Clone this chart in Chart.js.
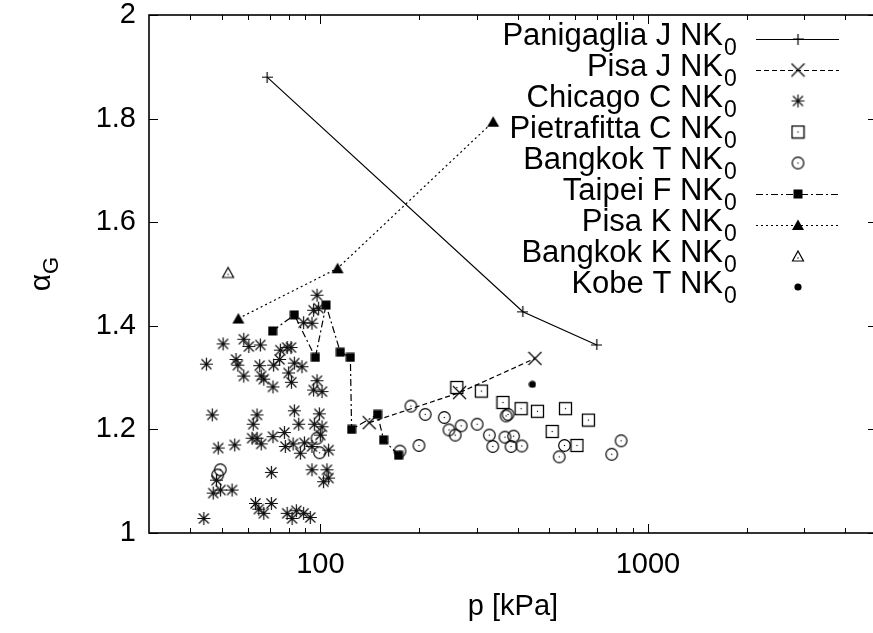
<!DOCTYPE html>
<html>
<head>
<meta charset="utf-8">
<script src="https://cdn.jsdelivr.net/npm/chart.js@4.4.1/dist/chart.umd.min.js"></script>
<style>
  html, body { margin: 0; padding: 0; background: #fff; }
  #wrap { width: 873px; height: 633px; overflow: hidden; position: relative; }
  #chart { position: absolute; left: 0; top: 0; }
</style>
</head>
<body>
<div id="wrap"><canvas id="chart" width="900" height="633"></canvas></div>
<script>
// alpha_G against pressure, nine test sites
const seriesLabels = ["Panigaglia J NK", "Pisa J NK", "Chicago C NK", "Pietrafitta C NK",
  "Bangkok T NK", "Taipei F NK", "Pisa K NK", "Bangkok K NK", "Kobe T NK"];

const panigagliaP = [68.8, 415, 698];
const panigagliaA = [1.880, 1.427, 1.363];

const pisaJP = [141, 266, 452];
const pisaJA = [1.213, 1.271, 1.337];

const chicagoP = [97.7, 95.4, 98.8, 88.9, 94.3, 50.5, 58.4, 60.5, 65.6, 75.5,
  79.2, 81.4, 44.9, 55.3, 56.0, 65.3, 72.0, 75.1, 83.3, 87.9,
  58.4, 66.0, 67.2, 71.7, 80.0, 81.6, 97.7, 95.4, 101.2, 46.8,
  64.1, 62.4, 83.3, 85.9, 99.3, 95.9, 101.2, 48.8, 54.8, 61.9,
  64.1, 66.0, 71.7, 77.7, 78.2, 82.6, 86.9, 89.4, 94.3, 100,
  106.0, 70.9, 94.3, 104.8, 102.3, 106.0, 47.1, 49.6, 53.8, 48.2,
  63.4, 67.2, 70.9, 79.2, 84.5, 88.9, 93.2, 82.0, 44.1, 64.9];
const chicagoA = [1.459, 1.430, 1.434, 1.406, 1.405, 1.365, 1.374, 1.360, 1.363, 1.353,
  1.358, 1.358, 1.326, 1.335, 1.324, 1.323, 1.324, 1.335, 1.328, 1.321,
  1.303, 1.303, 1.297, 1.282, 1.309, 1.291, 1.294, 1.276, 1.273, 1.228,
  1.228, 1.210, 1.236, 1.210, 1.230, 1.210, 1.205, 1.164, 1.170, 1.183,
  1.183, 1.172, 1.186, 1.194, 1.167, 1.172, 1.154, 1.174, 1.167, 1.189,
  1.160, 1.117, 1.122, 1.122, 1.099, 1.106, 1.077, 1.083, 1.083, 1.102,
  1.057, 1.038, 1.057, 1.038, 1.043, 1.038, 1.030, 1.028, 1.028, 1.046];

const pietrafittaP = [261, 310, 361, 410, 460, 560, 658, 510, 607];
const pietrafittaA = [1.281, 1.274, 1.252, 1.240, 1.235, 1.240, 1.218, 1.196, 1.169];

const bangkokTP = [189, 209, 239, 269, 247, 258, 301, 328, 336, 366, 369, 374, 389,
  382, 412, 556, 536, 775, 828, 175, 200, 49.5, 48.6, 97.7, 99.5];
const bangkokTA = [1.245, 1.229, 1.223, 1.207, 1.199, 1.189, 1.210, 1.189, 1.167, 1.185,
  1.226, 1.229, 1.187, 1.167, 1.168, 1.169, 1.147, 1.152, 1.178, 1.158, 1.169,
  1.122, 1.112, 1.183, 1.155];

const taipeiP = [71.5, 83.3, 96.6, 104.1, 115.1, 123.5, 124.6, 149.5, 156.0, 173.3];
const taipeiA = [1.390, 1.421, 1.339, 1.440, 1.349, 1.339, 1.200, 1.229, 1.180, 1.150];

const pisaKP = [56.2, 112.9, 336.9];
const pisaKA = [1.414, 1.511, 1.794];

const bangkokKP = [52.3];
const bangkokKA = [1.503];

const kobeP = [443.9];
const kobeA = [1.287];

const xTickLabels = [100, 1000];
const yTickLabels = [1, 1.2, 1.4, 1.6, 1.8, 2];

const FONT = '"Liberation Sans", Arial, sans-serif';

function pts(xs, ys) {
  return xs.map((v, i) => ({ x: v, y: ys[i] }));
}

// small canvases used as point styles (and reused by the key)
function marker(size, draw) {
  const c = document.createElement("canvas");
  c.width = size;
  c.height = size;
  const g = c.getContext("2d");
  g.strokeStyle = "#000";
  g.fillStyle = "#000";
  g.lineWidth = 1.2;
  draw(g, size / 2);
  return c;
}

const mPlus = marker(11, (g, h) => {
  g.beginPath();
  g.moveTo(0, h); g.lineTo(11, h);
  g.moveTo(h, 0); g.lineTo(h, 11);
  g.stroke();
});
const mCross = marker(15, (g, h) => {
  g.beginPath();
  g.moveTo(1, 1); g.lineTo(14, 14);
  g.moveTo(14, 1); g.lineTo(1, 14);
  g.stroke();
});
const mStar = marker(15, (g, h) => {
  g.strokeStyle = "#111";
  g.beginPath();
  g.moveTo(h, 1); g.lineTo(h, 14);
  g.moveTo(1, h); g.lineTo(14, h);
  g.moveTo(2.5, 2.5); g.lineTo(12.5, 12.5);
  g.moveTo(12.5, 2.5); g.lineTo(2.5, 12.5);
  g.stroke();
});
const mBoxDot = marker(15, (g, h) => {
  g.lineWidth = 1.3;
  g.strokeRect(1.5, 1.5, 12, 12);
  g.fillRect(h - 0.6, h - 0.6, 1.2, 1.2);
});
const mCircleDot = marker(15, (g, h) => {
  g.beginPath();
  g.arc(h, h, 5.8, 0, Math.PI * 2);
  g.stroke();
  g.fillRect(h - 0.6, h - 0.6, 1.2, 1.2);
});
const mBoxFill = marker(10, (g) => {
  g.fillRect(0.5, 0.5, 9, 9);
});
const mTriFill = marker(14, (g) => {
  g.beginPath();
  g.moveTo(7, 1.5); g.lineTo(13, 12); g.lineTo(1, 12);
  g.closePath();
  g.fill();
});
const mTriDot = marker(14, (g, h) => {
  g.beginPath();
  g.moveTo(7, 2); g.lineTo(12.5, 12); g.lineTo(1.5, 12);
  g.closePath();
  g.stroke();
  g.fillRect(h - 0.6, 8.4, 1.2, 1.2);
});
const mDot = marker(8, (g, h) => {
  g.beginPath();
  g.arc(h, h, 3.6, 0, Math.PI * 2);
  g.fill();
});

function series(label, xs, ys, style, line, dash) {
  return {
    label: label,
    data: pts(xs, ys),
    pointStyle: style,
    pointRadius: 5,
    pointHoverRadius: 5,
    showLine: !!line,
    borderColor: "#000",
    backgroundColor: "#000",
    borderWidth: 1.2,
    borderDash: dash || [],
    tension: 0
  };
}

const datasets = [
  series(seriesLabels[0], panigagliaP, panigagliaA, mPlus, true, []),
  series(seriesLabels[1], pisaJP, pisaJA, mCross, true, [5, 3]),
  series(seriesLabels[2], chicagoP, chicagoA, mStar, false),
  series(seriesLabels[3], pietrafittaP, pietrafittaA, mBoxDot, false),
  series(seriesLabels[4], bangkokTP, bangkokTA, mCircleDot, false),
  series(seriesLabels[5], taipeiP, taipeiA, mBoxFill, true, [7, 3, 2, 3]),
  series(seriesLabels[6], pisaKP, pisaKA, mTriFill, true, [2, 3]),
  series(seriesLabels[7], bangkokKP, bangkokKA, mTriDot, false),
  series(seriesLabels[8], kobeP, kobeA, mDot, false)
];

// minor log ticks between 30 and 5000
const xMinor = [];
[10, 100, 1000].forEach(d => {
  for (let m = 2; m <= 9; m++) {
    const v = m * d;
    if (v > 30 && v < 5000 && !xTickLabels.includes(v)) xMinor.push(v);
  }
});

const framePlugin = {
  id: "frame",
  afterDraw(chart) {
    const { ctx, chartArea: a, scales } = chart;
    const x = scales.x, y = scales.y;
    ctx.save();
    ctx.strokeStyle = "#000";
    ctx.lineWidth = 1;
    ctx.beginPath();
    xMinor.forEach(v => {
      const px = Math.round(x.getPixelForValue(v)) + 0.5;
      ctx.moveTo(px, a.bottom); ctx.lineTo(px, a.bottom - 5);
      ctx.moveTo(px, a.top); ctx.lineTo(px, a.top + 5);
    });
    xTickLabels.forEach(v => {
      const px = Math.round(x.getPixelForValue(v)) + 0.5;
      ctx.moveTo(px, a.bottom); ctx.lineTo(px, a.bottom - 9);
      ctx.moveTo(px, a.top); ctx.lineTo(px, a.top + 9);
    });
    yTickLabels.forEach(v => {
      const py = Math.round(y.getPixelForValue(v)) + 0.5;
      ctx.moveTo(a.left, py); ctx.lineTo(a.left + 9, py);
      ctx.moveTo(a.right, py); ctx.lineTo(a.right - 9, py);
    });
    ctx.stroke();

    ctx.lineWidth = 1.6;
    ctx.strokeRect(a.left, a.top, a.right - a.left, a.bottom - a.top);

    // key, top right
    ctx.fillStyle = "#000";
    chart.data.datasets.forEach((ds, i) => {
      const ry = 39 + 31 * i;
      ctx.font = "31px " + FONT;
      ctx.textAlign = "right";
      ctx.textBaseline = "alphabetic";
      ctx.fillText(ds.label, 723, ry + 6);
      ctx.font = "23px " + FONT;
      ctx.textAlign = "left";
      ctx.fillText("0", 724, ry + 16);
      if (ds.showLine) {
        ctx.save();
        ctx.lineWidth = 1.2;
        ctx.setLineDash(ds.borderDash);
        ctx.beginPath();
        ctx.moveTo(756, ry + 0.5);
        ctx.lineTo(839, ry + 0.5);
        ctx.stroke();
        ctx.restore();
      }
      const m = ds.pointStyle;
      ctx.drawImage(m, 798 - m.width / 2, ry - m.height / 2);
    });

    // axis titles
    ctx.font = "29px " + FONT;
    ctx.textAlign = "center";
    ctx.fillText("p [kPa]", (a.left + a.right) / 2, 615);

    ctx.translate(50, 274);
    ctx.rotate(-Math.PI / 2);
    ctx.font = "30px " + FONT;
    ctx.textAlign = "left";
    const wa = ctx.measureText("\u03b1").width;
    ctx.font = "22px " + FONT;
    const wg = ctx.measureText("G").width;
    const x0 = -(wa + wg) / 2;
    ctx.font = "30px " + FONT;
    ctx.fillText("\u03b1", x0, 0);
    ctx.font = "22px " + FONT;
    ctx.fillText("G", x0 + wa, 8);
    ctx.restore();
  }
};

new Chart(document.getElementById("chart"), {
  type: "scatter",
  data: { datasets },
  options: {
    responsive: false,
    devicePixelRatio: 1,
    animation: false,
    layout: { padding: { top: 15, right: 23, left: 0, bottom: 0 } },
    plugins: { legend: { display: false }, tooltip: { enabled: false } },
    scales: {
      x: {
        type: "logarithmic",
        min: 30,
        max: 5000,
        position: "bottom",
        grid: { display: false, drawTicks: false },
        border: { display: false },
        afterBuildTicks: s => { s.ticks = xTickLabels.map(v => ({ value: v })); },
        afterFit: s => { s.height = 100; s.paddingLeft = 0; s.paddingRight = 0; },
        ticks: {
          autoSkip: false,
          maxRotation: 0,
          padding: 15,
          color: "#000",
          font: { family: FONT, size: 29 },
          callback: v => String(v)
        }
      },
      y: {
        min: 1,
        max: 2,
        grid: { display: false, drawTicks: false },
        border: { display: false },
        afterBuildTicks: s => { s.ticks = yTickLabels.map(v => ({ value: v })); },
        afterFit: s => { s.width = 149; s.paddingTop = 0; s.paddingBottom = 0; },
        ticks: {
          padding: 13,
          color: "#000",
          font: { family: FONT, size: 29 },
          callback: v => String(+v.toFixed(1))
        }
      }
    }
  },
  plugins: [framePlugin]
});
</script>
</body>
</html>
